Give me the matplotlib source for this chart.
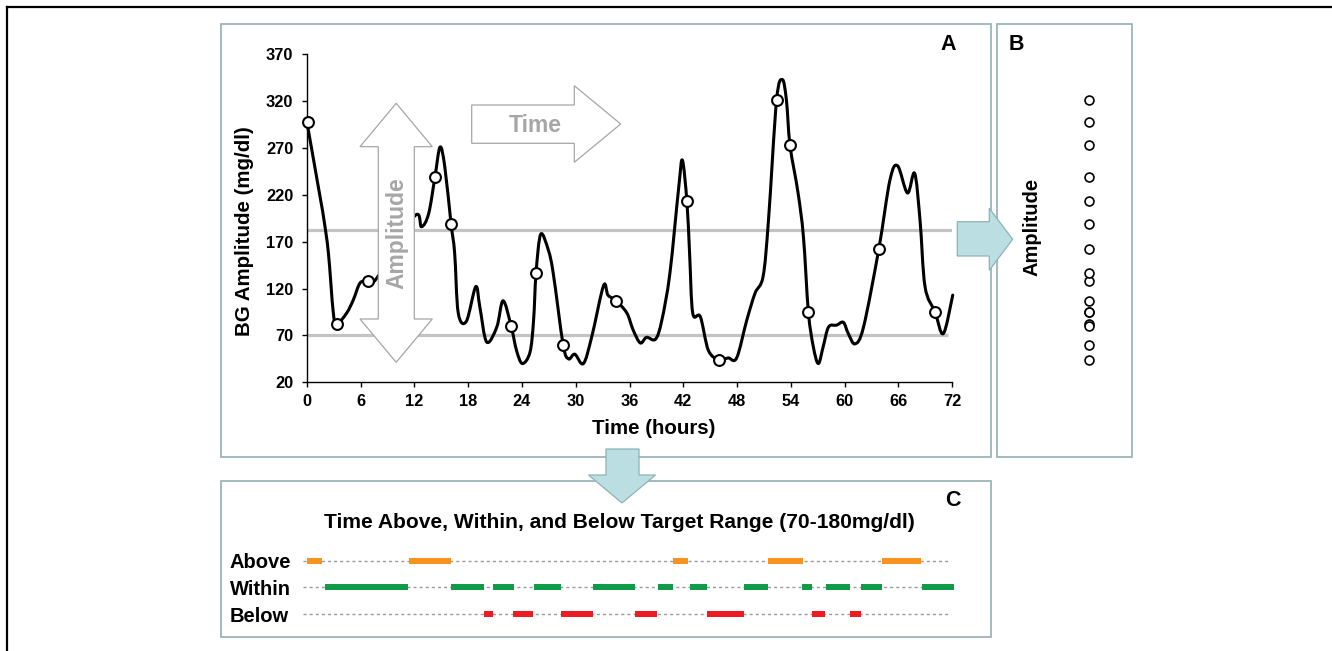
import numpy as np
import matplotlib
matplotlib.use("Agg")
import matplotlib.pyplot as plt
from matplotlib.path import Path
from matplotlib.patches import PathPatch, Polygon, Rectangle
from matplotlib.lines import Line2D
from matplotlib.transforms import blended_transform_factory

plt.rcParams['font.family'] = ['Liberation Sans', 'DejaVu Sans']
plt.rcParams['font.weight'] = 'bold'

# ---------------- data ----------------
curve_t = [0.0, 1.49, 1.93, 2.42, 2.97, 3.35, 4.46, 5.2, 5.95, 6.8, 7.8,
           12.0, 12.8, 13.6, 14.3, 14.87, 15.4, 16.1, 16.5, 16.9, 17.8,
           18.85, 19.3, 20.07, 21.2, 21.9, 22.8, 23.4, 24.05, 24.9, 25.3,
           25.58, 26.1, 26.95, 27.5, 28.6, 29.2, 29.9, 30.86, 31.8, 33.1,
           33.6, 34.5, 35.7, 36.4, 37.2, 37.9, 38.9, 39.6, 40.5, 41.5,
           41.9, 42.4, 42.7, 43.05, 43.9, 44.8, 46.0, 47.0, 47.95, 49.07,
           50.0, 50.9, 51.5, 52.4, 53.05, 53.5, 53.9, 54.8, 55.4, 55.95,
           56.5, 57.06, 57.6, 58.2, 59.1, 59.85, 60.4, 61.15, 62.1, 63.8,
           65.05, 65.9, 67.0, 67.8, 68.4, 68.96, 70.07, 71.0, 72.05]
curve_v = [299, 218, 193, 158, 94, 82, 94, 108, 126, 128, 131,
           197, 186, 200, 239, 271, 250, 189, 158, 94, 85,
           122, 101, 63, 79, 107, 80, 54, 40, 52, 86,
           137, 178, 161, 136, 60, 45, 50, 40, 69, 123,
           113, 107, 94, 76, 62, 68, 66, 86, 136, 229,
           257, 213, 158, 94, 90, 54, 44, 46, 46, 86,
           115, 133, 193, 321, 343, 321, 273, 222, 175, 95,
           58, 40, 58, 79, 81, 84, 72, 61, 79, 162,
           236, 251, 222, 243, 193, 122, 95, 72, 113]

marker_t = [0.15, 3.35, 6.8, 14.3, 16.1, 22.8, 25.58, 28.6, 34.5, 42.4,
            46.0, 52.4, 53.9, 55.95, 63.8, 70.07]
marker_v = [298, 82, 128, 239, 189, 80, 137, 60, 107, 213,
            44, 321, 273, 95, 162, 95]

upper_line = 183
lower_line = 70

above_start = [0.0, 11.4, 40.9, 51.5, 64.2]
above_end = [1.67, 16.05, 42.5, 55.3, 68.5]
within_start = [2.08, 16.1, 20.8, 25.3, 31.96, 39.2, 42.7, 48.8, 55.2, 57.9, 61.8, 68.6]
within_end = [11.33, 19.8, 23.1, 28.4, 36.6, 40.9, 44.6, 51.5, 56.3, 60.6, 64.2, 72.2]
below_start = [19.8, 23.0, 28.4, 36.6, 44.6, 56.3, 60.6]
below_end = [20.8, 25.2, 31.9, 39.1, 48.8, 57.8, 61.8]

row_labels = ['Above', 'Within', 'Below']
x_ticks = [0, 6, 12, 18, 24, 30, 36, 42, 48, 54, 60, 66, 72]
y_ticks = [20, 70, 120, 170, 220, 270, 320, 370]

# ---------------- layout helpers ----------------
W, H = 1332, 651
fig = plt.figure(figsize=(W / 100, H / 100), dpi=100)


def fx(x):
    return x / W


def fy(y):
    return 1 - y / H


def fpts(pts):
    return [(fx(x), fy(y)) for x, y in pts]


BOX = '#93AFB1'
TEAL = '#BADEE2'
TEAL_EDGE = '#8DB3B7'
GRAY = '#A6A6A6'
LINEGRAY = '#C3C3C3'

# outer frame
fig.add_artist(Line2D([fx(7), fx(W)], [fy(7), fy(7)], color='black', lw=1.6, transform=fig.transFigure))
fig.add_artist(Line2D([fx(7), fx(7)], [fy(7), fy(H)], color='black', lw=1.6, transform=fig.transFigure))

# panel boxes
for (x0, y0, x1, y1) in [(220.5, 24, 990.5, 456.5), (997.5, 24, 1132, 456.5), (220.5, 480.5, 990.5, 636.5)]:
    fig.add_artist(Rectangle((fx(x0), fy(y1)), fx(x1) - fx(x0), fy(y0) - fy(y1),
                             transform=fig.transFigure, fill=False, edgecolor=BOX, lw=1.2, zorder=0.5))

# ---------------- panel A ----------------
axA = fig.add_axes([fx(306.7), fy(382.3), (952.3 - 306.7) / W, (382.3 - 54.3) / H])
axA.set_xlim(0, 72)
axA.set_ylim(20, 370)
axA.patch.set_alpha(0)
for s in ['top', 'right']:
    axA.spines[s].set_visible(False)
for s in ['left', 'bottom']:
    axA.spines[s].set_linewidth(1.0)
axA.set_xticks(x_ticks)
axA.set_yticks(y_ticks)
axA.tick_params(direction='out', length=3.6, width=1.0, labelsize=11.8, pad=4.5)
axA.tick_params(axis='y', pad=6)
for lab in axA.get_xticklabels() + axA.get_yticklabels():
    lab.set_fontweight('bold')

axA.plot([0, 72], [upper_line, upper_line], color=LINEGRAY, lw=2.3, zorder=1, solid_capstyle='butt')
axA.plot([0, 71.5], [lower_line, lower_line], color=LINEGRAY, lw=2.3, zorder=1, solid_capstyle='butt')

# smooth curve (Catmull-Rom -> cubic Bezier in data coords)
pts = np.column_stack([curve_t, curve_v]).astype(float)
ext = np.vstack([pts[0], pts, pts[-1]])
verts = [tuple(pts[0])]
codes = [Path.MOVETO]
for i in range(1, len(ext) - 2):
    p0, p1, p2, p3 = ext[i - 1], ext[i], ext[i + 1], ext[i + 2]
    c1 = p1 + (p2 - p0) / 6.0
    c2 = p2 - (p3 - p1) / 6.0
    verts += [tuple(c1), tuple(c2), tuple(p2)]
    codes += [Path.CURVE4] * 3
axA.add_patch(PathPatch(Path(verts, codes), facecolor='none', edgecolor='black', lw=2.2, zorder=2,
                        clip_on=False, capstyle='round', joinstyle='round'))
axA.plot(marker_t, marker_v, 'o', ms=7.8, mfc='white', mec='black', mew=1.5, zorder=3, clip_on=False)

fig.text(fx(245), fy(231), 'BG Amplitude (mg/dl)', rotation=90, ha='center', va='center',
         fontsize=14.8, fontweight='bold')
fig.text(fx(654), fy(428.5), 'Time (hours)', ha='center', va='center', fontsize=14.8, fontweight='bold')
fig.text(fx(948.5), fy(45), 'A', ha='center', va='center', fontsize=15.5, fontweight='bold')

# amplitude double arrow
amp = [(396.2, 103.3), (432.3, 146.7), (414.3, 146.7), (414.3, 319), (432.3, 319), (396.2, 362.3),
       (360, 319), (378.3, 319), (378.3, 146.7), (360, 146.7)]
fig.add_artist(Polygon(fpts(amp), closed=True, transform=fig.transFigure, facecolor='white',
                       edgecolor=GRAY, lw=0.9, zorder=5))
fig.text(fx(397), fy(233), 'Amplitude', rotation=90, ha='center', va='center', fontsize=16.5,
         fontweight='bold', color=GRAY, zorder=6)

# time arrow
tarr = [(471.7, 105), (574.3, 105), (574.3, 85.7), (620.7, 124), (574.3, 162.3), (574.3, 143.3), (471.7, 143.3)]
fig.add_artist(Polygon(fpts(tarr), closed=True, transform=fig.transFigure, facecolor='white',
                       edgecolor=GRAY, lw=0.9, zorder=5))
fig.text(fx(535), fy(125), 'Time', ha='center', va='center', fontsize=16.5, fontweight='bold',
         color=GRAY, zorder=6)

# teal arrows
rarr = [(957.3, 221.7), (989.3, 221.7), (989.3, 208.3), (1012.7, 239.3), (989.3, 270.3), (989.3, 256), (957.3, 256)]
fig.add_artist(Polygon(fpts(rarr), closed=True, transform=fig.transFigure, facecolor=TEAL,
                       edgecolor=TEAL_EDGE, lw=0.9, zorder=5))
darr = [(606, 449), (639, 449), (639, 475), (655.5, 475), (622, 503), (588.5, 475), (606, 475)]
fig.add_artist(Polygon(fpts(darr), closed=True, transform=fig.transFigure, facecolor=TEAL,
                       edgecolor=TEAL_EDGE, lw=0.9, zorder=5))

# ---------------- panel B ----------------
axB = fig.add_axes([fx(998), fy(382.3), 134 / W, (382.3 - 54.3) / H])
axB.set_xlim(0, 1)
axB.set_ylim(20, 370)
axB.axis('off')
axB.plot(np.full(len(marker_v), 0.68), marker_v, 'o', ms=6.4, mfc='white', mec='black', mew=1.2, clip_on=False)
fig.text(fx(1032.5), fy(227), 'Amplitude', rotation=90, ha='center', va='center', fontsize=14.5,
         fontweight='bold')
fig.text(fx(1016.5), fy(45), 'B', ha='center', va='center', fontsize=15.5, fontweight='bold')

# ---------------- panel C ----------------
axC = fig.add_axes([fx(306.7), fy(627.3), (952.3 - 306.7) / W, 80 / H])
axC.set_xlim(0, 72)
axC.set_ylim(-0.5, 2.5)
axC.axis('off')
rows = {'Above': 2, 'Within': 1, 'Below': 0}
for r in rows.values():
    axC.plot([-0.4, 71.9], [r, r], color='#9A9A9A', lw=1.0, ls=(0, (2.2, 2.2)), zorder=1, clip_on=False)
bar_h = 0.23
axC.barh([2] * len(above_start), np.array(above_end) - np.array(above_start), left=above_start,
         height=bar_h, color='#F7941D', zorder=2, clip_on=False)
axC.barh([1] * len(within_start), np.array(within_end) - np.array(within_start), left=within_start,
         height=bar_h, color='#0F9B48', zorder=2, clip_on=False)
axC.barh([0] * len(below_start), np.array(below_end) - np.array(below_start), left=below_start,
         height=bar_h, color='#ED1C24', zorder=2, clip_on=False)
trans = blended_transform_factory(fig.transFigure, axC.transData)
for lab in row_labels:
    axC.text(fx(229.5), rows[lab] - 0.08, lab, transform=trans, ha='left', va='center', fontsize=14.5,
             fontweight='bold')
fig.text(fx(619.7), fy(523), 'Time Above, Within, and Below Target Range (70-180mg/dl)', ha='center',
         va='center', fontsize=15.1, fontweight='bold')
fig.text(fx(953), fy(501), 'C', ha='center', va='center', fontsize=15.5, fontweight='bold')

fig.savefig('out.png', dpi=100)
